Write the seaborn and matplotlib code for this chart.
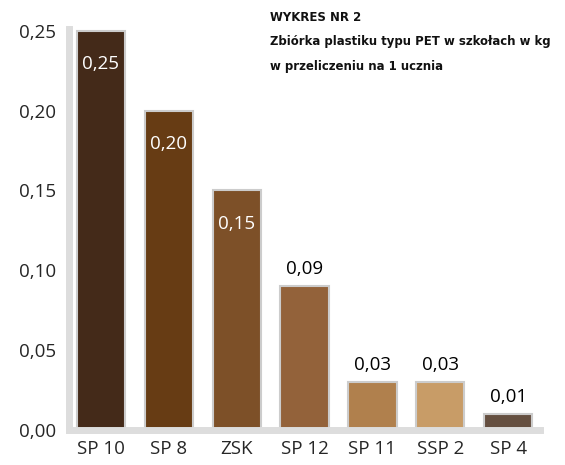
import matplotlib
matplotlib.use("Agg")
import matplotlib.pyplot as plt
import seaborn as sns
import pandas as pd

categories = ["SP 10", "SP 8", "ZSK", "SP 12", "SP 11", "SSP 2", "SP 4"]
values = [0.25, 0.20, 0.15, 0.09, 0.03, 0.03, 0.01]
labels = ["0,25", "0,20", "0,15", "0,09", "0,03", "0,03", "0,01"]
colors = ["#442a19", "#673c14", "#7d5028", "#93623a", "#b0804d", "#c89c67", "#654f40"]
yticks = [0.0, 0.05, 0.10, 0.15, 0.20, 0.25]
ytick_labels = ["0,00", "0,05", "0,10", "0,15", "0,20", "0,25"]
title_lines = ["WYKRES NR 2", "Zbiórka plastiku typu PET w szkołach w kg", "w przeliczeniu na 1 ucznia"]

sns.set_style("white")
plt.rcParams['font.family'] = ['Open Sans', 'DejaVu Sans']

df = pd.DataFrame({"cat": categories, "val": values})

fig = plt.figure(figsize=(5.65, 4.65), dpi=100)
ax = fig.add_axes([0.122, 0.075, 0.834, 0.863])
sns.barplot(data=df, x="cat", y="val", hue="cat", palette=colors, legend=False,
            width=0.71, edgecolor="#cccccc", linewidth=1.5, ax=ax, saturation=1)

ax.set_xlim(-0.47, 6.47)
ax.set_ylim(0, 0.2512)
ax.set_yticks(yticks)
ax.set_yticklabels(ytick_labels, fontsize=13.5)
ax.set_xlabel("")
ax.set_ylabel("")
ax.tick_params(axis="x", length=0, labelsize=13.5, pad=7)
ax.tick_params(axis="y", length=5, width=3, color="#dddddd", pad=4)
for s in ["top", "right"]:
    ax.spines[s].set_visible(False)
for s in ["left", "bottom"]:
    ax.spines[s].set_color("#dddddd")
    ax.spines[s].set_linewidth(5)

for i, (v, lab) in enumerate(zip(values, labels)):
    if v >= 0.15:
        ax.text(i, v - 0.021, lab, ha="center", va="center", color="white", fontsize=13.5)
    else:
        ax.text(i, v + 0.011, lab, ha="center", va="center", color="black", fontsize=13.5)

ys = [0.962, 0.910, 0.858]
for y, t in zip(ys, title_lines):
    fig.text(0.478, y, t, ha="left", va="center", fontsize=9.4, fontweight="bold",
             family=['DejaVu Sans'], fontstretch="condensed", color="#111111")

fig.savefig("out.png", dpi=100)
